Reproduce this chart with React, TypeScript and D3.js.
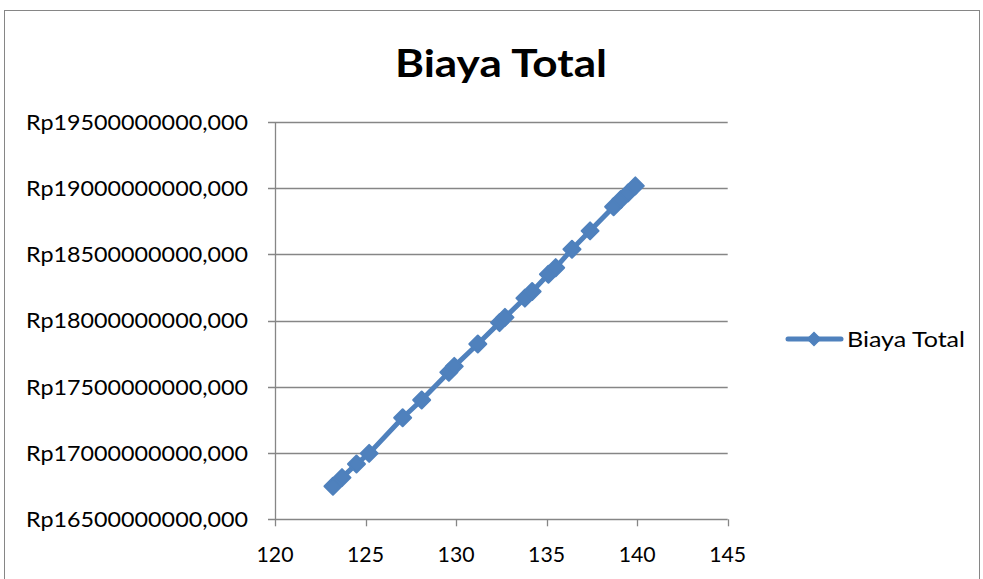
import React, { useEffect, useRef } from "react";
import * as d3 from "d3";

const seriesName = "Biaya Total";
const quantities = [123.2, 123.7, 124.5, 125.2, 127.05, 128.1, 129.6, 129.9, 131.2, 132.4, 132.7, 133.8, 134.2, 135.1, 135.5, 136.4, 137.4, 138.7, 139.1, 139.5, 139.9];
const costs = [16750e6, 16815e6, 16918e6, 16998e6, 17267e6, 17401e6, 17610e6, 17655e6, 17824e6, 17985e6, 18025e6, 18170e6, 18220e6, 18350e6, 18400e6, 18539e6, 18678e6, 18860e6, 18915e6, 18965e6, 19018e6];
const xTicks = [120, 125, 130, 135, 140, 145];
const yTicks = [16500e6, 17000e6, 17500e6, 18000e6, 18500e6, 19000e6, 19500e6];

const W = 983;
const H = 579;
const BLUE = "#4F81BD";
const GRID = "#868686";
const FONT = "Lato, 'Open Sans', sans-serif";

export default function App() {
  const ref = useRef<SVGSVGElement | null>(null);

  useEffect(() => {
    const svg = d3.select(ref.current);
    svg.selectAll("*").remove();

    const x = d3.scaleLinear().domain([120, 145]).range([275, 727.7]);
    const y = d3.scaleLinear().domain([16500e6, 19500e6]).range([519.3, 122]);

    svg.append("rect").attr("x", 0).attr("y", 0).attr("width", W).attr("height", H).attr("fill", "#fff");
    svg.append("rect").attr("x", 4.5).attr("y", 10.5).attr("width", 975).attr("height", 620)
      .attr("fill", "none").attr("stroke", GRID).attr("stroke-width", 1);

    // title
    svg.append("text").attr("x", 501).attr("y", 77).attr("text-anchor", "middle")
      .attr("font-family", FONT).attr("font-weight", 700).attr("font-size", 38)
      .attr("textLength", 212).attr("lengthAdjust", "spacingAndGlyphs")
      .attr("fill", "#000").text(seriesName);

    // gridlines
    const g = svg.append("g");
    yTicks.forEach((t) => {
      g.append("line").attr("x1", 268).attr("x2", x(145)).attr("y1", Math.round(y(t)) + 0.5).attr("y2", Math.round(y(t)) + 0.5)
        .attr("stroke", GRID).attr("stroke-width", 1.3);
      g.append("text").attr("x", 248).attr("y", y(t)).attr("dy", "0.36em").attr("text-anchor", "end")
        .attr("font-family", FONT).attr("font-size", 21.5).attr("fill", "#000")
        .attr("textLength", 222).attr("lengthAdjust", "spacingAndGlyphs")
        .text("Rp" + d3.format("d")(t) + ",000");
    });
    // y axis line
    g.append("line").attr("x1", 275.5).attr("x2", 275.5).attr("y1", y(19500e6)).attr("y2", y(16500e6))
      .attr("stroke", GRID).attr("stroke-width", 1.3);
    // x ticks
    xTicks.forEach((t) => {
      g.append("line").attr("x1", Math.round(x(t)) + 0.5).attr("x2", Math.round(x(t)) + 0.5)
        .attr("y1", y(16500e6)).attr("y2", y(16500e6) + 7).attr("stroke", GRID).attr("stroke-width", 1.3);
      g.append("text").attr("x", x(t)).attr("y", 561.5).attr("text-anchor", "middle")
        .attr("font-family", FONT).attr("font-size", 21.5).attr("fill", "#000")
        .attr("textLength", 37).attr("lengthAdjust", "spacingAndGlyphs").text(String(t));
    });

    // series
    const data = quantities.map((q, i) => ({ q, c: costs[i] }));
    const line = d3.line<{ q: number; c: number }>().x((d) => x(d.q)).y((d) => y(d.c));
    svg.append("path").datum(data).attr("d", line).attr("fill", "none")
      .attr("stroke", BLUE).attr("stroke-width", 5).attr("stroke-linejoin", "round").attr("stroke-linecap", "round");

    const diamond = (cx: number, cy: number, h: number) =>
      `M${cx},${cy - h}L${cx + h},${cy}L${cx},${cy + h}L${cx - h},${cy}Z`;
    svg.append("g").selectAll("path").data(data).join("path")
      .attr("d", (d) => diamond(x(d.q), y(d.c), 8.5))
      .attr("fill", BLUE).attr("stroke", BLUE).attr("stroke-width", 2).attr("stroke-linejoin", "round");

    // legend
    const ly = 339;
    svg.append("line").attr("x1", 788).attr("x2", 841).attr("y1", ly).attr("y2", ly)
      .attr("stroke", BLUE).attr("stroke-width", 5).attr("stroke-linecap", "round");
    svg.append("path").attr("d", diamond(814, ly, 6.5)).attr("fill", BLUE).attr("stroke", BLUE).attr("stroke-width", 1.5);
    svg.append("text").attr("x", 847).attr("y", ly).attr("dy", "0.36em")
      .attr("font-family", FONT).attr("font-size", 21.5).attr("fill", "#000")
      .attr("textLength", 118).attr("lengthAdjust", "spacingAndGlyphs").text(seriesName);
  }, []);

  return (
    <div style={{ position: "fixed", left: 0, top: 0 }}>
      <svg ref={ref} width={W} height={H} style={{ display: "block" }} />
    </div>
  );
}
